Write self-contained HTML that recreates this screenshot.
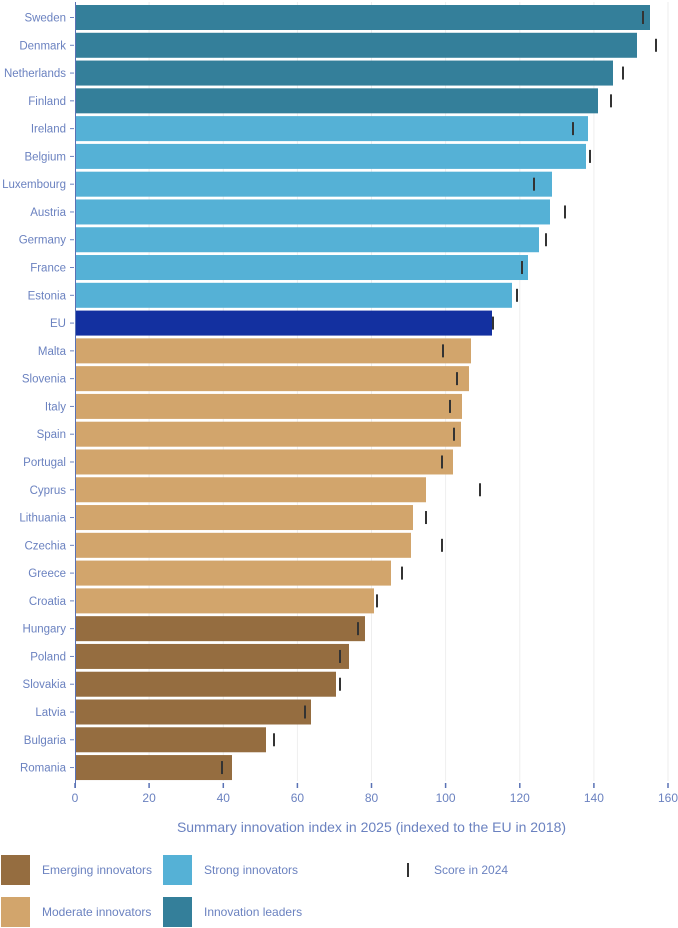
<!DOCTYPE html>
<html><head><meta charset="utf-8"><style>body{margin:0;background:#fff}svg{display:block;font-family:"Liberation Sans",sans-serif}</style></head><body>
<svg width="678" height="928" viewBox="0 0 678 928" xmlns="http://www.w3.org/2000/svg">
<g stroke="#eeeeee" stroke-width="1">
<line x1="149.1" y1="2" x2="149.1" y2="781"/><line x1="223.3" y1="2" x2="223.3" y2="781"/><line x1="297.4" y1="2" x2="297.4" y2="781"/><line x1="371.5" y1="2" x2="371.5" y2="781"/><line x1="445.6" y1="2" x2="445.6" y2="781"/><line x1="519.8" y1="2" x2="519.8" y2="781"/><line x1="593.9" y1="2" x2="593.9" y2="781"/><line x1="668" y1="2" x2="668" y2="781"/>
</g>
<g id="bars"></g>
<line x1="75.5" y1="2" x2="75.5" y2="788" stroke="#5a72b5" stroke-width="1"/>
<g stroke="#5a72b5" stroke-width="1.5">
<line x1="75" y1="783" x2="75" y2="788"/><line x1="149.1" y1="783" x2="149.1" y2="788"/><line x1="223.3" y1="783" x2="223.3" y2="788"/><line x1="297.4" y1="783" x2="297.4" y2="788"/><line x1="371.5" y1="783" x2="371.5" y2="788"/><line x1="445.6" y1="783" x2="445.6" y2="788"/><line x1="519.8" y1="783" x2="519.8" y2="788"/><line x1="593.9" y1="783" x2="593.9" y2="788"/><line x1="668" y1="783" x2="668" y2="788"/>
</g>
<g fill="#6b82c0" font-size="12" text-anchor="middle">
<text x="75" y="802">0</text><text x="149.1" y="802">20</text><text x="223.3" y="802">40</text><text x="297.4" y="802">60</text><text x="371.5" y="802">80</text><text x="445.6" y="802">100</text><text x="519.8" y="802">120</text><text x="593.9" y="802">140</text><text x="668" y="802">160</text>
<text x="371.5" y="832" font-size="14">Summary innovation index in 2025 (indexed to the EU in 2018)</text>
</g>
<rect x="1" y="855" width="29" height="30" fill="#956d40"/>
<rect x="1" y="897" width="29" height="30" fill="#d2a56c"/>
<rect x="163" y="855" width="29" height="30" fill="#55b1d6"/>
<rect x="163" y="897" width="29" height="30" fill="#347f9a"/>
<line x1="408" y1="863" x2="408" y2="877" stroke="#333" stroke-width="2"/>
<g fill="#6b82c0" font-size="12">
<text x="42" y="874">Emerging innovators</text><text x="42" y="916">Moderate innovators</text>
<text x="204" y="874">Strong innovators</text><text x="204" y="916">Innovation leaders</text>
<text x="434" y="874">Score in 2024</text>
</g>
<g id="labels" fill="#6b82c0" font-size="11.5" text-anchor="end"></g>
<script>
var d=[["Sweden",650,643,"L"],["Denmark",637,656,"L"],["Netherlands",613,623,"L"],["Finland",598,611,"L"],["Ireland",588,573,"S"],["Belgium",586,590,"S"],["Luxembourg",552,534,"S"],["Austria",550,565,"S"],["Germany",539,546,"S"],["France",528,522,"S"],["Estonia",512,517,"S"],["EU",492,493,"E"],["Malta",471,443,"M"],["Slovenia",469,457,"M"],["Italy",462,450,"M"],["Spain",461,454,"M"],["Portugal",453,442,"M"],["Cyprus",426,480,"M"],["Lithuania",413,426,"M"],["Czechia",411,442,"M"],["Greece",391,402,"M"],["Croatia",374,377,"M"],["Hungary",365,358,"G"],["Poland",349,340,"G"],["Slovakia",336,340,"G"],["Latvia",311,305,"G"],["Bulgaria",266,274,"G"],["Romania",232,222,"G"]];
var c={L:"#347f9a",S:"#55b1d6",E:"#1330a0",M:"#d2a56c",G:"#956d40"};
var ns="http://www.w3.org/2000/svg",b=document.getElementById("bars"),l=document.getElementById("labels");
d.forEach(function(r,i){var y=5+i*27.78;
var e=document.createElementNS(ns,"rect");e.setAttribute("x",76);e.setAttribute("y",y);e.setAttribute("width",r[1]-76);e.setAttribute("height",25);e.setAttribute("fill",c[r[3]]);b.appendChild(e);
var m=document.createElementNS(ns,"line");m.setAttribute("x1",r[2]);m.setAttribute("x2",r[2]);m.setAttribute("y1",y+6);m.setAttribute("y2",y+19);m.setAttribute("stroke","#333");m.setAttribute("stroke-width","2");b.appendChild(m);
var t=document.createElementNS(ns,"text");t.setAttribute("x",66);t.setAttribute("y",y+16.5);t.textContent=r[0];l.appendChild(t);
var k=document.createElementNS(ns,"line");k.setAttribute("x1",70);k.setAttribute("x2",74);k.setAttribute("y1",y+12.5);k.setAttribute("y2",y+12.5);k.setAttribute("stroke","#6b82c0");b.appendChild(k);});
</script>
</svg>
</body></html>
